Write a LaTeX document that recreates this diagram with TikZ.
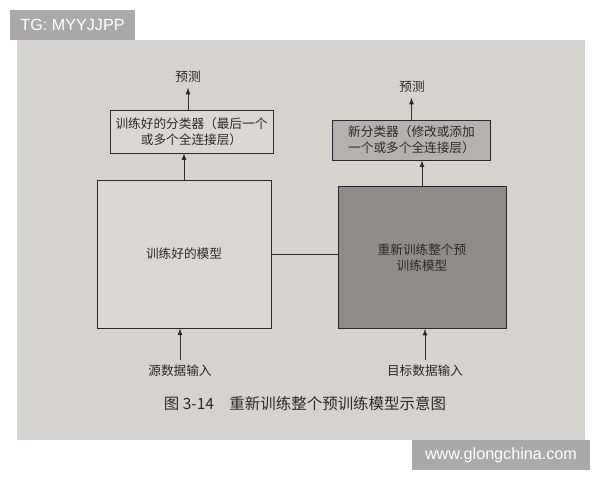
\documentclass[tikz,border=0pt]{standalone}
\usepackage{fontspec}
\setmainfont{Liberation Sans}
\newfontfamily\cjk{Noto Sans CJK SC}
\usetikzlibrary{shapes,arrows,positioning,calc}

\definecolor{pagebg}{HTML}{D5D3CF}
\definecolor{lightbox}{HTML}{DAD8D4}
\definecolor{midbox}{HTML}{B4B2B0}
\definecolor{darkbox}{HTML}{8E8C8B}
\definecolor{ink}{HTML}{2A2A2A}
\definecolor{mark}{HTML}{A9A9A9}

\begin{document}
\begin{tikzpicture}[x=0.025cm, y=-0.025cm, >=latex, draw=ink, text=ink, line width=0.6pt,
  font=\cjk\fontsize{9}{11.5}\selectfont]
\useasboundingbox (0,0) rectangle (600,480);
% 照片背景
\fill[pagebg] (17,40) rectangle (585,440);

% 水印
\node[fill=mark, text=white, minimum width=3.125cm, minimum height=0.75cm, font=\fontsize{11.5}{13}\selectfont] (tg) at (72.5,25) {TG: MYYJJPP};
\node[fill=mark, text=white, minimum width=4.45cm, minimum height=0.75cm, font=\fontsize{11.5}{13}\selectfont] (site) at (501,455) {www.glongchina.com};

% 训练好的分类器
\node[draw, rectangle, fill=lightbox, minimum width=4.075cm, minimum height=1.075cm, align=center] (oldcls) at (191.5,131.5) {
训练好的分类器（最后一个\\
或多个全连接层）
};
\node (oldpred) at (188,77) {预测};

% 训练好的模型
\node[draw, rectangle, fill=lightbox, minimum width=4.35cm, minimum height=3.7cm] (oldmodel) at (184,254) {训练好的模型};
\node (srcin) at (180,371) {源数据输入};

% 新分类器
\node[draw, rectangle, fill=midbox, minimum width=3.93cm, minimum height=1.0cm, align=center] (newcls) at (411.5,140) {
新分类器（修改或添加\\
一个或多个全连接层）
};
\node (newpred) at (412,87) {预测};

% 重新训练整个预训练模型
\node[draw, rectangle, fill=darkbox, minimum width=4.2cm, minimum height=3.55cm, align=center] (newmodel) at (422,257.5) {
重新训练整个预\\
训练模型
};
\node (tgtin) at (425,371) {目标数据输入};

% 图题
\node[font=\cjk\fontsize{11}{13}\selectfont] (caption) at (305,404) {图 3-14\quad 重新训练整个预训练模型示意图};

% 连线
\draw[->] (oldpred.south |- oldcls.north) -- (oldpred.south);
\draw[->] (oldmodel.north) -- (oldmodel.north |- oldcls.south);
\draw[->] (srcin.north) -- (srcin.north |- oldmodel.south);
\draw[->] (newcls.north) -- (newcls.north |- newpred.south);
\draw[->] (newmodel.north) -- (newmodel.north |- newcls.south);
\draw[->] (tgtin.north) -- (tgtin.north |- newmodel.south);
\draw (oldmodel.east) -- (oldmodel.east -| newmodel.west);
\end{tikzpicture}
\end{document}
